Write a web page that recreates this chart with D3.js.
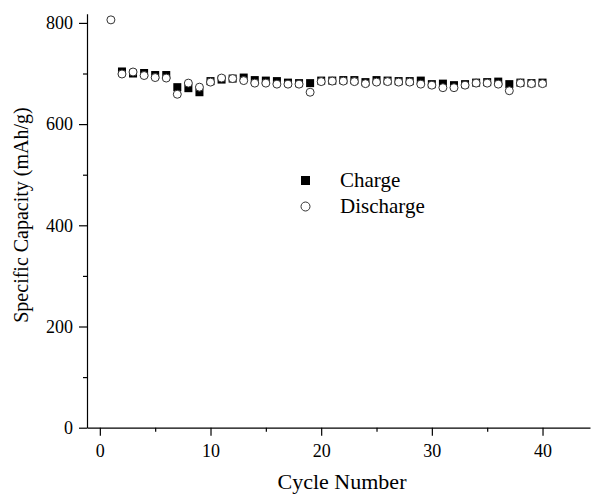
<!DOCTYPE html>
<html>
<head>
<meta charset="utf-8">
<script src="https://cdn.jsdelivr.net/npm/d3@7"></script>
<style>
    body { margin: 0; background: #fff; }
    svg { display: block; font-family: "Liberation Serif", "Times New Roman", serif; }
</style>
</head>
<body>
<div id="chart"><svg></svg></div>
<script>
// cycle number
let cycles = [1, 2, 3, 4, 5, 6, 7, 8, 9, 10, 11, 12, 13, 14, 15, 16, 17, 18, 19, 20,
    21, 22, 23, 24, 25, 26, 27, 28, 29, 30, 31, 32, 33, 34, 35, 36, 37, 38, 39, 40];
// charge capacity (mAh/g), none at cycle 1
let charge = [null, 704, 700, 701, 697, 697, 673, 671, 663, 685, 688, 690, 692, 687, 686, 685, 682, 681, 681, 686,
    686, 687, 687, 683, 687, 686, 685, 685, 686, 679, 680, 677, 679, 682, 683, 684, 679, 682, 681, 682];
// discharge capacity (mAh/g)
let discharge = [806, 699, 703, 696, 692, 691, 659, 681, 673, 683, 691, 690, 686, 681, 681, 679, 679, 679, 663, 684,
    685, 685, 684, 680, 683, 684, 683, 683, 679, 677, 672, 672, 677, 681, 681, 679, 666, 681, 680, 680];

let x_ticks = [0, 10, 20, 30, 40];
let x_minor = [5, 15, 25, 35];
let y_ticks = [0, 200, 400, 600, 800];
let y_minor = [100, 300, 500, 700];

function draw_capacity(containerid) {
    let width = 592;
    let height = 496;
    let svg = d3.select('#' + containerid).select('svg')
        .attr('width', width)
        .attr('height', height);
    svg.selectAll('*').remove();

    let x = d3.scaleLinear().domain([-1.16, 44.29]).range([87, 590]);
    let y = d3.scaleLinear().domain([0, 818]).range([427.7, 13.8]);
    let x0 = y(0), y0 = x(-1.16);

    // minor ticks first
    svg.append('g')
        .attr('transform', `translate(0, ${x0})`)
        .call(d3.axisBottom(x).tickValues(x_minor).tickSize(4).tickFormat(''))
        .call(g => g.select('.domain').remove());
    svg.append('g')
        .attr('transform', `translate(${y0}, 0)`)
        .call(d3.axisLeft(y).tickValues(y_minor).tickSize(4).tickFormat(''))
        .call(g => g.select('.domain').remove());

    // x axis
    svg.append('g')
        .attr('transform', `translate(0, ${x0})`)
        .call(d3.axisBottom(x).tickValues(x_ticks).tickSize(8).tickSizeOuter(0).tickPadding(9))
        .attr('font-size', '18px')
        .attr('font-family', null);

    // y axis
    svg.append('g')
        .attr('transform', `translate(${y0}, 0)`)
        .call(d3.axisLeft(y).tickValues(y_ticks).tickSize(8).tickSizeOuter(0).tickPadding(6))
        .attr('font-size', '18px')
        .attr('font-family', null);

    svg.selectAll('.domain, .tick line').attr('stroke', '#000').attr('stroke-width', 1.2);
    svg.selectAll('.tick text').attr('fill', '#000');

    // axis labels
    svg.append('text')
        .attr('x', 342)
        .attr('y', 489)
        .attr('text-anchor', 'middle')
        .attr('font-size', '22px')
        .text('Cycle Number');
    svg.append('text')
        .attr('transform', `translate(28, 215) rotate(-90)`)
        .attr('text-anchor', 'middle')
        .attr('font-size', '20px')
        .text('Specific Capacity (mAh/g)');

    // charge squares
    let s = 8;
    svg.append('g')
        .selectAll('rect')
        .data(cycles.map((c, i) => ({ c: c, v: charge[i] })).filter(d => d.v !== null))
        .enter().append('rect')
        .attr('x', d => x(d.c) - s / 2)
        .attr('y', d => y(d.v) - s / 2)
        .attr('width', s)
        .attr('height', s)
        .attr('fill', '#000');

    // discharge circles
    svg.append('g')
        .selectAll('circle')
        .data(cycles.map((c, i) => ({ c: c, v: discharge[i] })))
        .enter().append('circle')
        .attr('cx', d => x(d.c))
        .attr('cy', d => y(d.v))
        .attr('r', 4)
        .attr('fill', '#fff')
        .attr('stroke', '#333')
        .attr('stroke-width', 1);

    // legend
    let lg = svg.append('g').attr('font-size', '21px');
    lg.append('rect')
        .attr('x', 301).attr('y', 176)
        .attr('width', 9).attr('height', 9)
        .attr('fill', '#000');
    lg.append('text').attr('x', 340).attr('y', 187).text('Charge');
    lg.append('circle')
        .attr('cx', 305.5).attr('cy', 206.5).attr('r', 4.5)
        .attr('fill', '#fff').attr('stroke', '#333');
    lg.append('text').attr('x', 340).attr('y', 213).text('Discharge');
}

draw_capacity('chart');
</script>
</body>
</html>
